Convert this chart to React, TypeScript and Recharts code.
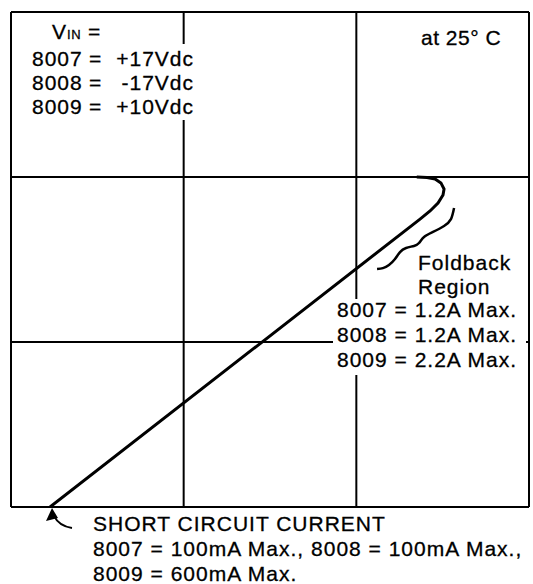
import { LineChart, Line, XAxis, YAxis, ReferenceLine } from "recharts";

// grid divisions (3 x 3 graticule, no scale given)
const gridValues = [0, 1, 2, 3];

// output characteristic: linear rise from short circuit current, bend into the foldback knee
const curveX = [0.226, 2.369, 2.427, 2.473, 2.502, 2.508, 2.49, 2.456, 2.409, 2.35];
const curveY = [0, 1.745, 1.794, 1.842, 1.891, 1.927, 1.964, 1.988, 1.997, 2.0];

// brace marking the foldback region
const braceX = [2.566, 2.548, 2.508, 2.444, 2.392, 2.363, 2.334, 2.288, 2.253, 2.224, 2.189, 2.154, 2.12];
const braceY = [1.812, 1.745, 1.703, 1.667, 1.636, 1.6, 1.582, 1.57, 1.545, 1.503, 1.467, 1.448, 1.442];

const vinRows = [
  { part: "8007", value: "+17Vdc" },
  { part: "8008", value: "-17Vdc" },
  { part: "8009", value: "+10Vdc" },
];
const foldbackRows = ["8007 = 1.2A Max.", "8008 = 1.2A Max.", "8009 = 2.2A Max."];
const shortCircuitRows = [
  "SHORT CIRCUIT CURRENT",
  "8007 = 100mA Max., 8008 = 100mA Max.,",
  "8009 = 600mA Max.",
];

const toPoints = (xs: number[], ys: number[]) => xs.map((x, i) => ({ x, y: ys[i] }));

const FONT = '"Liberation Sans", Arial, sans-serif';

const textStyle: React.CSSProperties = {
  position: "absolute",
  fontFamily: FONT,
  fontSize: 21,
  lineHeight: "24px",
  letterSpacing: 1,
  color: "#000",
  whiteSpace: "pre",
  WebkitTextStroke: "0.3px #000",
};

export default function App() {
  return (
    <div
      style={{
        position: "fixed",
        left: 0,
        top: 0,
        width: 533,
        height: 584,
        background: "#fff",
        overflow: "hidden",
      }}
    >
      <LineChart width={533} height={584} margin={{ top: 12, right: 4, bottom: 77, left: 11 }}>
        <XAxis type="number" dataKey="x" domain={[0, 3]} allowDataOverflow hide />
        <YAxis type="number" dataKey="y" domain={[0, 3]} allowDataOverflow hide />
        {gridValues.map((v) => (
          <ReferenceLine key={"x" + v} x={v} stroke="#000" strokeWidth={2} />
        ))}
        {gridValues.map((v) => (
          <ReferenceLine key={"y" + v} y={v} stroke="#000" strokeWidth={2} />
        ))}
        <Line
          data={toPoints(curveX, curveY)}
          dataKey="y"
          type="linear"
          stroke="#000"
          strokeWidth={3}
          dot={false}
          isAnimationActive={false}
        />
        <Line
          data={toPoints(braceX, braceY)}
          dataKey="y"
          type="natural"
          stroke="#000"
          strokeWidth={2.5}
          dot={false}
          isAnimationActive={false}
        />
      </LineChart>

      {/* V_IN block */}
      <div style={{ ...textStyle, left: 52, top: 20 }}>
        V<span style={{ fontSize: 13, letterSpacing: 0.5 }}>IN</span>
        <span style={{ position: "absolute", left: 36 }}>=</span>
      </div>
      <div style={{ position: "absolute", left: 28, top: 44, width: 170, height: 76, background: "#fff" }} />
      {vinRows.map((r, i) => (
        <div key={r.part} style={{ ...textStyle, left: 32, top: 47 + i * 24 }}>
          <span>{r.part}</span>
          <span style={{ position: "absolute", left: 57 }}>=</span>
          <span style={{ position: "absolute", left: 74, width: 88, textAlign: "right" }}>{r.value}</span>
        </div>
      ))}

      <div style={{ ...textStyle, left: 421, top: 26, letterSpacing: 0.5 }}>at 25° C</div>

      {/* foldback note */}
      <div style={{ ...textStyle, left: 418, top: 251 }}>Foldback</div>
      <div style={{ ...textStyle, left: 418, top: 275 }}>Region</div>
      <div style={{ position: "absolute", left: 333, top: 299, width: 193, height: 76, background: "#fff" }} />
      {foldbackRows.map((t, i) => (
        <div key={t} style={{ ...textStyle, left: 337, top: 298 + i * 25 }}>
          {t}
        </div>
      ))}

      {/* short circuit note */}
      <svg
        width={533}
        height={584}
        style={{ position: "absolute", left: 0, top: 0, pointerEvents: "none" }}
      >
        <path d="M72 528 Q59 526 54 516" fill="none" stroke="#000" strokeWidth={1.8} />
        <polygon points="52,508 46,521 58,518" fill="#000" />
      </svg>
      {shortCircuitRows.map((t, i) => (
        <div key={t} style={{ ...textStyle, left: 93, top: 515 + i * 25, lineHeight: "18px" }}>
          {t}
        </div>
      ))}
    </div>
  );
}
